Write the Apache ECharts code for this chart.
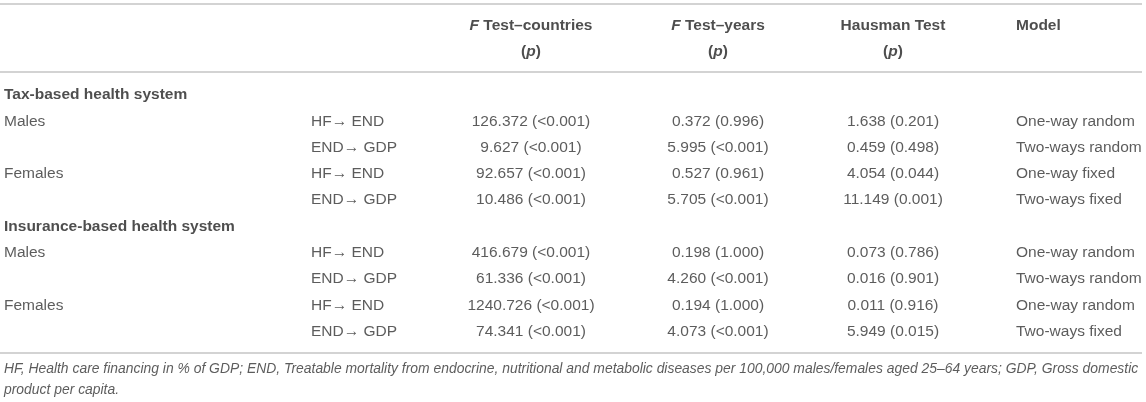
<!DOCTYPE html>
<html>
<head>
<meta charset="utf-8">
<script src="https://cdn.jsdelivr.net/npm/echarts@6/dist/echarts.min.js"></script>
<style>html,body{margin:0;padding:0;background:#fff;}#c{width:1146px;height:402px;}</style>
</head>
<body>
<div id="c"></div>
<script>
// ---- data ----
var groups = ["Tax-based health system", "Insurance-based health system"];
var sexes = ["Males", "Females"];
var paths = ["HF\u2192 END", "END\u2192 GDP"];
var fCountries = ["126.372 (<0.001)", "9.627 (<0.001)", "92.657 (<0.001)", "10.486 (<0.001)",
                  "416.679 (<0.001)", "61.336 (<0.001)", "1240.726 (<0.001)", "74.341 (<0.001)"];
var fYears = ["0.372 (0.996)", "5.995 (<0.001)", "0.527 (0.961)", "5.705 (<0.001)",
              "0.198 (1.000)", "4.260 (<0.001)", "0.194 (1.000)", "4.073 (<0.001)"];
var hausman = ["1.638 (0.201)", "0.459 (0.498)", "4.054 (0.044)", "11.149 (0.001)",
               "0.073 (0.786)", "0.016 (0.901)", "0.011 (0.916)", "5.949 (0.015)"];
var models = ["One-way random", "Two-ways random", "One-way fixed", "Two-ways fixed",
              "One-way random", "Two-ways random", "One-way random", "Two-ways fixed"];
var headers = [["F", " Test\u2013countries"], ["F", " Test\u2013years"], ["", "Hausman Test"], ["", "Model"]];
var footnote = ["HF, Health care financing in % of GDP; END, Treatable mortality from endocrine, nutritional and metabolic diseases per 100,000 males/females aged 25\u201364 years; GDP, Gross domestic",
                "product per capita."];

// ---- layout ----
var colX = [4, 311, 531, 718, 893, 1016];
var rowY0 = 95, rowStep = 26.3;
var headY = [25.5, 52];
var footY = [369, 390];
var ruleY = [4, 71.5, 353];
var FONT = "'Liberation Sans', Arial, Helvetica, sans-serif";
var FS = 15.5;
var TXT = '#333';

function rowY(r) { return rowY0 + rowStep * r; }

var leftItems = [], centerItems = [];
function add(arr, x, y, text, extra) {
  var it = { value: [x, y], name: text };
  if (extra) it.label = extra;
  arr.push(it);
}

// header
var rich = {
  i: { fontFamily: FONT, fontSize: FS, fontWeight: 'bold', fontStyle: 'italic', color: '#222' },
  b: { fontFamily: FONT, fontSize: FS, fontWeight: 'bold', color: '#222' }
};
headers.forEach(function (h, k) {
  var txt = (h[0] ? '{i|' + h[0] + '}' : '') + '{b|' + h[1] + '}';
  if (k < 3) {
    add(centerItems, colX[2 + k], headY[0], txt, { rich: rich });
    add(centerItems, colX[2 + k], headY[1], '{b|(}{i|p}{b|)}', { rich: rich });
  } else {
    add(leftItems, colX[5], headY[0], txt, { rich: rich });
  }
});

// body
var r = 0, d = 0;
groups.forEach(function (g) {
  add(leftItems, colX[0], rowY(r), g, { fontWeight: 'bold', color: '#222' });
  r++;
  sexes.forEach(function (s) {
    paths.forEach(function (p, pi) {
      if (pi === 0) add(leftItems, colX[0], rowY(r), s);
      add(leftItems, colX[1], rowY(r), p);
      add(centerItems, colX[2], rowY(r), fCountries[d]);
      add(centerItems, colX[3], rowY(r), fYears[d]);
      add(centerItems, colX[4], rowY(r), hausman[d]);
      add(leftItems, colX[5], rowY(r), models[d]);
      r++; d++;
    });
  });
});

// footnote
footnote.forEach(function (f, k) {
  add(leftItems, colX[0], footY[k], f, { fontStyle: 'italic', fontSize: 13.9 });
});

function labelSeries(data, align) {
  return {
    type: 'scatter',
    data: data,
    symbolSize: 1,
    itemStyle: { color: 'rgba(0,0,0,0)' },
    silent: true,
    label: {
      show: true,
      position: 'inside',
      align: align,
      verticalAlign: 'middle',
      fontFamily: FONT,
      fontSize: FS,
      color: TXT,
      formatter: function (p) { return p.name; }
    }
  };
}

var chart = echarts.init(document.getElementById('c'), null, { renderer: 'canvas' });
chart.setOption({
  animation: false,
  backgroundColor: '#fff',
  grid: { left: 0, right: 4, top: 0, bottom: 0 },
  xAxis: { type: 'value', min: 0, max: 1142, show: false },
  yAxis: { type: 'value', min: 0, max: 402, inverse: true, show: false },
  series: [
    labelSeries(leftItems, 'left'),
    labelSeries(centerItems, 'center'),
    {
      type: 'scatter',
      data: [],
      markLine: {
        silent: true,
        symbol: ['none', 'none'],
        label: { show: false },
        lineStyle: { color: '#c4c4c4', width: 1.6, type: 'solid' },
        data: ruleY.map(function (y) { return { yAxis: y }; })
      }
    }
  ]
});
</script>
</body>
</html>
